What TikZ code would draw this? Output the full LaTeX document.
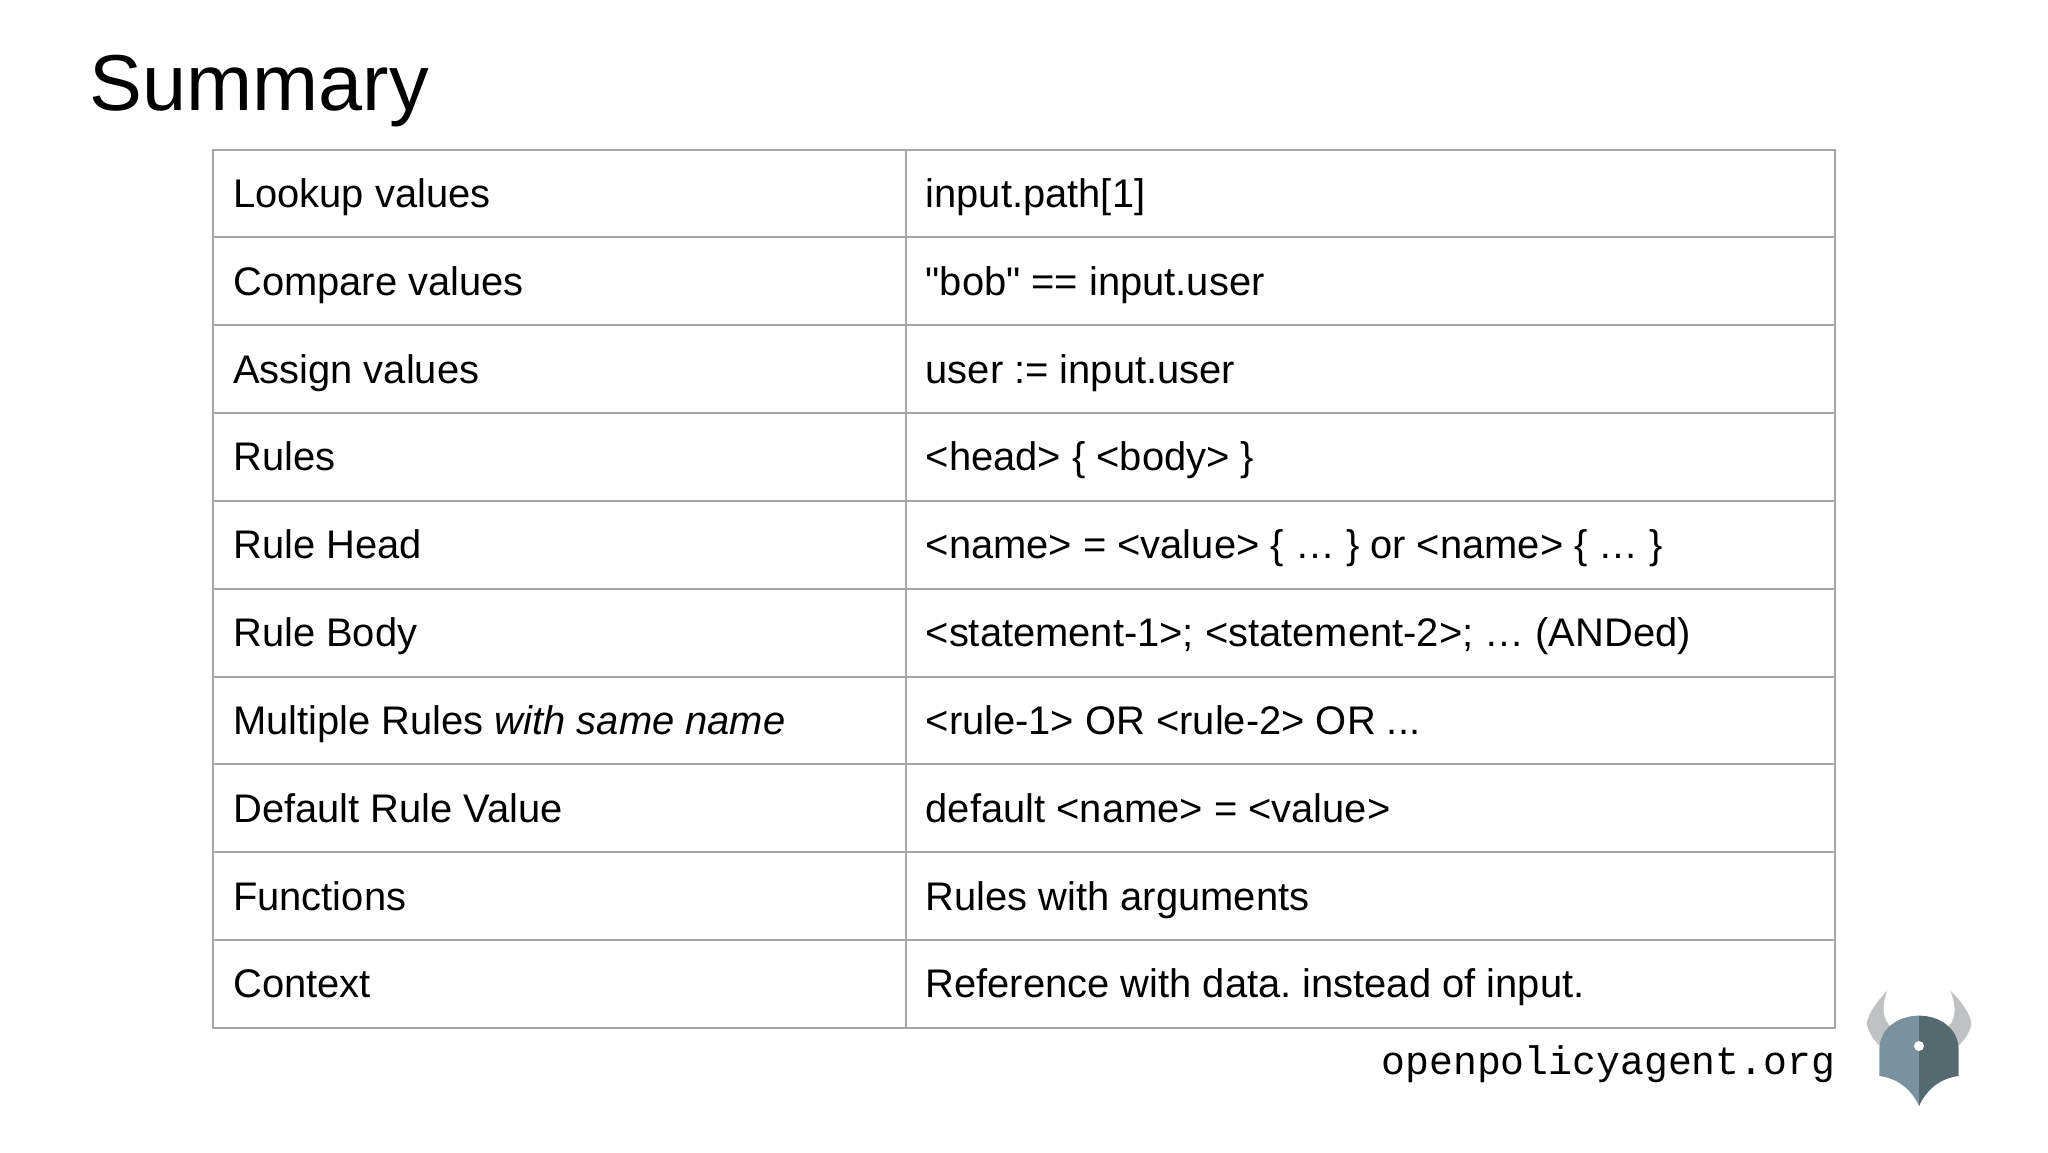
\documentclass[tikz,border=0pt]{standalone}
\usepackage{fontspec}
\setmainfont{Liberation Sans}[Ligatures=Common,Kerning=On]
\newfontfamily\plainface{Liberation Sans}
\newfontfamily\monoface{Liberation Mono}
\definecolor{gridgray}{HTML}{A6A6A6}
\definecolor{hornc}{HTML}{BFC1C2}
\definecolor{shieldl}{HTML}{7A929E}
\definecolor{shieldr}{HTML}{566870}
\tikzset{
  x=1pt,y=-1pt,
  cell/.style={anchor=base west,inner sep=0pt,outer sep=0pt,font=\plainface\frenchspacing\fontsize{39.9}{48}\selectfont,text=black},
  gridline/.style={draw=gridgray,line width=2pt}
}
\begin{document}
\begin{tikzpicture}
\useasboundingbox[fill=white] (0,0) rectangle (2048,1152);
\node[anchor=base west,inner sep=0pt,font=\plainface\fontsize{79.3}{90}\selectfont] (title) at (89.5,110) {Summary};
% grid
\foreach \i in {0,...,10}{
  \draw[gridline] (212,149.5+87.85*\i) -- (1836,149.5+87.85*\i);
}
\draw[gridline] (213,148.5) -- (213,1028.5);
\draw[gridline] (906,148.5) -- (906,1028.5);
\draw[gridline] (1835,148.5) -- (1835,1028.5);
% rows
\foreach \i/\a/\b in {
 0/{Lookup values}/{input.path[1]},
 1/{Compare values}/{"bob" == input.user},
 2/{Assign values}/{user := input.user},
 3/{Rules}/{<head> \{ <body> \}},
 4/{Rule Head}/{<name> = <value> \{ … \} or <name> \{ … \}},
 5/{Rule Body}/{<statement-1>; <statement-2>; … (ANDed)},
 6/{Multiple Rules \textit{with same name}}/{<rule-1> OR <rule-2> OR ...},
 7/{Default Rule Value}/{default <name> = <value>},
 8/{Functions}/{Rules with arguments},
 9/{Context}/{Reference with data. instead of input.}}{
  \node[cell] (left\i) at (233.2,207.3+87.85*\i) {\a};
  \node[cell] (right\i) at (925.7,207.3+87.85*\i) {\b};
}
\node[anchor=base east,inner sep=0pt,font=\monoface\fontsize{39.8}{50}\selectfont] (site) at (1835.5,1074) {openpolicyagent.org};
% logo
\begin{scope}[shift={(1840,970)},x=0.3333pt,y=-0.3333pt]
  \fill[hornc] (142,62) .. controls (110,95) and (85,130) .. (80,160) .. controls (85,190) and (105,215) .. (125,232) -- (152,170) .. controls (130,150) and (122,115) .. (142,62) -- cycle;
  \fill[hornc] (331,62) .. controls (365,95) and (390,130) .. (394,160) .. controls (390,190) and (370,215) .. (350,232) -- (325,170) .. controls (345,150) and (352,115) .. (331,62) -- cycle;
  \fill[shieldl] (237,137) .. controls (175,137) and (118,175) .. (118,240) -- (118,318) .. controls (175,325) and (215,360) .. (237,408) -- cycle;
  \fill[shieldr] (237,137) .. controls (299,137) and (356,175) .. (356,240) -- (356,318) .. controls (299,325) and (259,360) .. (237,408) -- cycle;
  \fill[white] (237,228) circle[radius=15];
\end{scope}
\end{tikzpicture}
\end{document}
